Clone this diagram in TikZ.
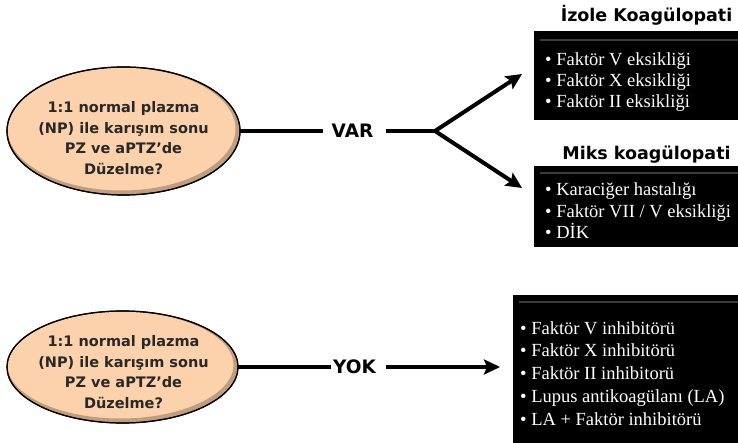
\documentclass[tikz,border=0pt]{standalone}
\usepackage{fontspec}
\setmainfont{Liberation Serif}
\newfontfamily\djs{DejaVu Sans}
\usetikzlibrary{arrows.meta,shapes.geometric}
\definecolor{peach}{RGB}{251,210,172}
\definecolor{qgray}{RGB}{40,40,40}
\definecolor{shadowc}{RGB}{90,60,40}
\definecolor{rulec}{RGB}{60,60,60}
\tikzset{
  qell/.style={ellipse, draw=black, line width=1.2pt, fill=peach, inner sep=0pt, outer sep=0pt},
  qtext/.style={font=\djs\bfseries\fontsize{14.5}{20.5}\selectfont, text=qgray, align=center, inner sep=0pt},
  conn/.style={line width=4pt, black, line join=miter},
  tipped/.style={conn, -{Stealth[length=16pt,width=15pt,inset=3pt]}},
  bothtips/.style={conn, {Stealth[length=16pt,width=15pt,inset=3pt]}-{Stealth[length=16pt,width=15pt,inset=3pt]}},
  lab/.style={font=\djs\bfseries\fontsize{18.5}{20}\selectfont, inner sep=0pt},
  blk/.style={fill=black, draw=none, inner sep=0pt, outer sep=0pt},
  itm/.style={font=\fontsize{18.5}{22}\selectfont, text=white, anchor=base west, inner sep=0pt},
  ttl/.style={font=\djs\bfseries\fontsize{17.5}{20}\selectfont, anchor=base, inner sep=0pt},
  rulel/.style={draw=rulec, line width=1.5pt}
}
\begin{document}
\begin{tikzpicture}[x=1pt,y=-1pt]
\useasboundingbox[fill=white] (0,0) rectangle (738,443);

% ---------- top question ----------
\node[qell, minimum width=233pt, minimum height=128pt] (q1) at (123.5,131) {};
\begin{scope}
  \clip (q1.center) ellipse [x radius=116.5pt, y radius=64pt];
  \draw[shadowc, line width=5pt, opacity=0.35] ([shift={(-2,-2)}]q1.center) ellipse [x radius=116.5pt, y radius=64pt];
\end{scope}
\draw[black, line width=1.2pt] (q1.center) ellipse [x radius=116.5pt, y radius=64pt];
\node[qtext] (q1t) at (123.5,138) {1:1 normal plazma\\(NP) ile karışım sonu\\PZ ve aPTZ’de\\Düzelme?};

\node[lab] (var) at (352.5,131) {VAR};
\coordinate (br) at (435,131);
\coordinate (t1) at (522,74);
\coordinate (t2) at (522,188);
\draw[conn] (q1.east) -- ([xshift=-8pt]var.west);
\draw[conn] ([xshift=12pt]var.east) -- (br);
\draw[bothtips] (t1) -- (br) -- (t2);

% ---------- top boxes ----------
\node[ttl] (ttl1) at (646.5,22) {İzole Koagülopati};
\node[blk, minimum width=206pt, minimum height=89pt] (box1) at (637,75.5) {};
\draw[rulel] (540,40) -- (738,40);
\node[itm] (b1a) at (545,65.5) {• Faktör V eksikliği};
\node[itm] (b1b) at (545,86.5) {• Faktör X eksikliği};
\node[itm] (b1c) at (545,107.5) {• Faktör II eksikliği};

\node[ttl] (ttl2) at (646.5,160) {Miks koagülopati};
\node[blk, minimum width=206pt, minimum height=81pt] (box2) at (637,206.5) {};
\draw[rulel] (540,173) -- (738,173);
\node[itm] (b2a) at (545,196) {• Karaciğer hastalığı};
\node[itm] (b2b) at (545,217.5) {• Faktör VII / V eksikliği};
\node[itm] (b2c) at (545,239) {• DİK};

% ---------- bottom question ----------
\node[qell, minimum width=231pt, minimum height=112pt] (q2) at (122.5,367) {};
\begin{scope}
  \clip (q2.center) ellipse [x radius=115.5pt, y radius=56pt];
  \draw[shadowc, line width=5pt, opacity=0.35] ([shift={(-2,-2)}]q2.center) ellipse [x radius=115.5pt, y radius=56pt];
\end{scope}
\draw[black, line width=1.2pt] (q2.center) ellipse [x radius=115.5pt, y radius=56pt];
\node[qtext] (q2t) at (123.5,372) {1:1 normal plazma\\(NP) ile karışım sonu\\PZ ve aPTZ’de\\Düzelme?};

\node[lab] (yok) at (354.5,367) {YOK};
\coordinate (t3) at (500,367);
\draw[conn] (q2.east) -- ([xshift=-2pt]yok.west);
\draw[tipped] ([xshift=10pt]yok.east) -- (t3);

% ---------- bottom box ----------
\node[blk, minimum width=227pt, minimum height=150pt] (box3) at (626.5,370) {};
\draw[rulel] (519,302) -- (738,302);
\node[itm] (b3a) at (520,334) {• Faktör V inhibitörü};
\node[itm] (b3b) at (520,356.75) {• Faktör X inhibitörü};
\node[itm] (b3c) at (520,379.5) {• Faktör II inhibitorü};
\node[itm] (b3d) at (520,402.25) {• Lupus antikoagülanı (LA)};
\node[itm] (b3e) at (520,425) {• LA + Faktör inhibitörü};
\end{tikzpicture}
\end{document}
